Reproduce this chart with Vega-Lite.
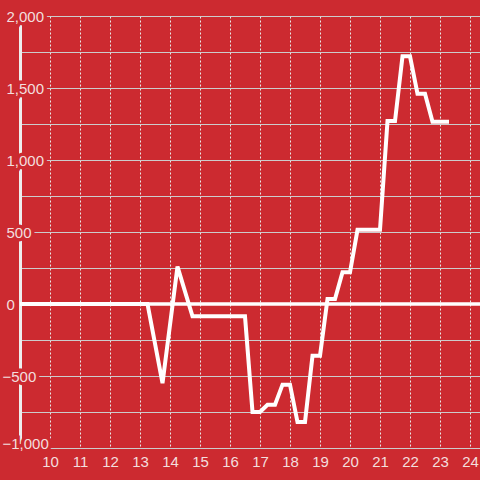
{
  "$schema": "https://vega.github.io/schema/vega-lite/v6.json",
  "width": 460,
  "height": 432,
  "autosize": {"type": "none"},
  "padding": {"left": 20, "top": 16, "right": 0, "bottom": 32},
  "background": "#cc2a30",
  "config": {
    "view": {"stroke": null},
    "axis": {
      "labelFont": "Liberation Sans",
      "labelFontSize": 15,
      "labelColor": "#f3dede",
      "ticks": false,
      "tickSize": 0,
      "title": null,
      "labelOverlap": false,
      "labelFlush": false,
      "labelBound": false
    }
  },
  "layer": [
    {
      "data": {"values": [{"zero": 0}]},
      "mark": {"type": "rule", "color": "#ffffff", "strokeWidth": 3},
      "encoding": {
        "y": {
          "field": "zero",
          "type": "quantitative",
          "scale": {"domain": [-1000, 2000], "nice": false, "zero": false},
          "axis": {
            "orient": "left",
            "zindex": 0,
            "values": [-1000, -750, -500, -250, 0, 250, 500, 750, 1000, 1250, 1500, 1750, 2000],
            "grid": true,
            "gridColor": "#cccccc",
            "gridWidth": 1,
            "domain": true,
            "domainColor": "#eeeeee",
            "domainWidth": 3,
            "labels": false
          }
        }
      }
    },
    {
      "data": {
        "values": [
          {"t": 9, "v": 0},
          {"t": 13.25, "v": 0},
          {"t": 13.75, "v": -550},
          {"t": 14.25, "v": 260},
          {"t": 14.75, "v": -85},
          {"t": 16.5, "v": -85},
          {"t": 16.75, "v": -750},
          {"t": 17, "v": -750},
          {"t": 17.25, "v": -700},
          {"t": 17.5, "v": -700},
          {"t": 17.75, "v": -560},
          {"t": 18, "v": -560},
          {"t": 18.25, "v": -820},
          {"t": 18.5, "v": -820},
          {"t": 18.75, "v": -360},
          {"t": 19, "v": -360},
          {"t": 19.25, "v": 35},
          {"t": 19.5, "v": 35},
          {"t": 19.75, "v": 220},
          {"t": 20, "v": 220},
          {"t": 20.25, "v": 515},
          {"t": 21, "v": 515},
          {"t": 21.25, "v": 1270},
          {"t": 21.5, "v": 1270},
          {"t": 21.75, "v": 1720},
          {"t": 22, "v": 1720},
          {"t": 22.25, "v": 1460},
          {"t": 22.5, "v": 1460},
          {"t": 22.75, "v": 1265},
          {"t": 23.3, "v": 1265}
        ]
      },
      "mark": {"type": "line", "color": "#ffffff", "strokeWidth": 4, "strokeCap": "butt"},
      "encoding": {
        "x": {
          "field": "t",
          "type": "quantitative",
          "scale": {"domain": [9, 24.3333], "nice": false, "zero": false},
          "axis": {
            "zindex": 0,
            "values": [10, 11, 12, 13, 14, 15, 16, 17, 18, 19, 20, 21, 22, 23, 24],
            "format": "d",
            "grid": true,
            "gridColor": "#e8e8e8",
            "gridDash": [2, 2],
            "gridWidth": 1,
            "domainColor": "#cccccc",
            "domainWidth": 1,
            "labelPadding": 6
          }
        },
        "y": {
          "field": "v",
          "type": "quantitative",
          "scale": {"domain": [-1000, 2000], "nice": false, "zero": false},
          "axis": {
            "orient": "left",
            "zindex": 1,
            "values": [-1000, -500, 0, 500, 1000, 1500, 2000],
            "grid": false,
            "domain": false,
            "labelAlign": "left",
            "labelPadding": {"condition": {"test": "datum.value < 0", "value": 18}, "value": 14},
            "labelBaseline": {"condition": {"test": "datum.value <= -1000", "value": "alphabetic"}, "value": "middle"},
            "labelColor": "#cc2a30",
            "format": ",.0f",
            "encoding": {
              "labels": {
                "stroke": {"value": "#cc2a30"},
                "strokeWidth": {"value": 7}
              }
            }
          }
        }
      }
    },
    {
      "data": {"values": [{"zero": 0}]},
      "mark": {"type": "rule", "color": "#ffffff", "strokeWidth": 3},
      "encoding": {
        "y": {
          "field": "zero",
          "type": "quantitative",
          "scale": {"domain": [-1000, 2000], "nice": false, "zero": false},
          "axis": {
            "orient": "left",
            "zindex": 2,
            "values": [-1000, -500, 0, 500, 1000, 1500, 2000],
            "grid": false,
            "domain": false,
            "labelAlign": "left",
            "labelPadding": {"condition": {"test": "datum.value < 0", "value": 18}, "value": 14},
            "labelBaseline": {"condition": {"test": "datum.value <= -1000", "value": "alphabetic"}, "value": "middle"},
            "format": ",.0f"
          }
        }
      }
    }
  ],
  "resolve": {"scale": {"y": "independent"}, "axis": {"y": "independent"}}
}
